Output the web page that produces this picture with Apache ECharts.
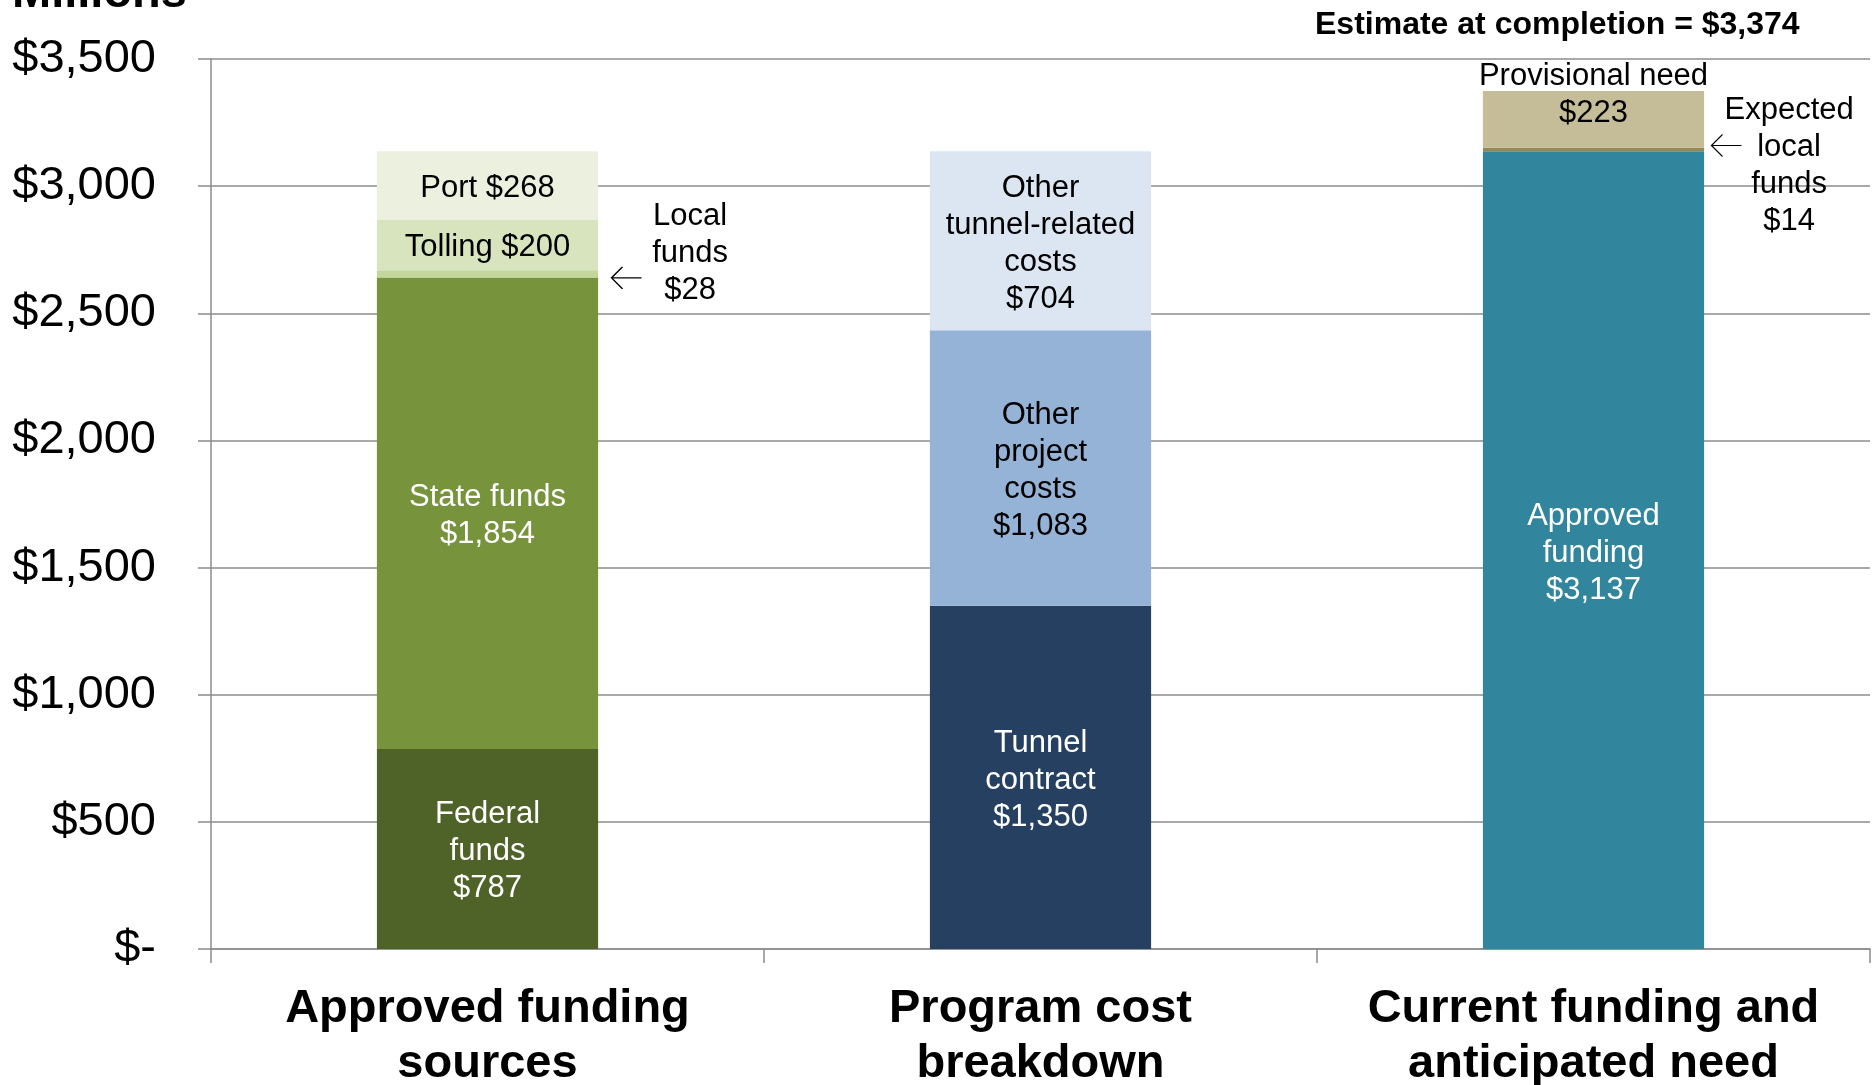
<!DOCTYPE html>
<html>
<head>
<meta charset="utf-8">
<script src="https://cdn.jsdelivr.net/npm/echarts@6/dist/echarts.min.js"></script>
<style>
  html, body { margin: 0; padding: 0; background: #fff; }
  #main { width: 1873px; height: 1085px; }
</style>
</head>
<body>
<div id="main"></div>
<script>
const categories = ['Approved funding\nsources', 'Program cost\nbreakdown', 'Current funding and\nanticipated need']

// bar 1: approved funding sources
const fundingNames = ['Federal funds', 'State funds', 'Local funds', 'Tolling', 'Port']
const fundingTexts = ['Federal\nfunds\n', 'State funds\n', 'Local\nfunds\n', 'Tolling ', 'Port ']
const fundingValues = [787, 1854, 28, 200, 268]

// bar 2: program cost breakdown
const costNames = ['Tunnel contract', 'Other project costs', 'Other tunnel-related costs']
const costTexts = ['Tunnel\ncontract\n', 'Other\nproject\ncosts\n', 'Other\ntunnel-related\ncosts\n']
const costValues = [1350, 1083, 704]

// bar 3: current funding and anticipated need
const needNames = ['Approved funding', 'Expected local funds', 'Provisional need']
const needTexts = ['Approved\nfunding\n', 'Expected\nlocal\nfunds\n', 'Provisional need\n']
const needValues = [3137, 14, 223]

const yMax = 3500
const yStep = 500

const FONT = '"Liberation Sans", Arial, sans-serif'
const GRID_COLOR = '#8c8c8c'

const money = v => '$' + v.toLocaleString('en-US')

// colours / label styling per segment (kept apart from the data)
const groupStyle = [
  { colors: ['#4f6228', '#77933c', '#c3d69b', '#d7e4bd', '#ebf1de'], white: [true, true, false, false, false] },
  { colors: ['#254061', '#95b3d7', '#dce6f2'], white: [true, false, false] },
  { colors: ['#31859c', '#948a54', '#c4bd97'], white: [true, false, false] }
]
// side notes with arrow: [group-index] -> label placement
const sideNotes = {
  '0-2': { distance: 92, offset: [0, -20], arrow: [139, 4] },
  '2-1': { distance: 85, offset: [0, 16], arrow: [133, -4] }
}
const insideOffsets = { '2-2': [0, -24] }
const ARROW = 'path://M30,11 L0,11 M11,0 L0,11 L11,22'

const series = []
function addGroup(catIdx, names, texts, values) {
  let base = 0
  names.forEach((name, i) => {
    const key = catIdx + '-' + i
    const st = groupStyle[catIdx]
    const s = {
      name: name,
      type: 'bar',
      stack: 'total',
      barWidth: '40%',
      data: categories.map((c, k) => (k === catIdx ? values[i] : '-')),
      itemStyle: { color: st.colors[i] },
      emphasis: { disabled: true },
      label: {
        show: true,
        position: 'inside',
        offset: insideOffsets[key] || [0, 3],
        formatter: texts[i] + money(values[i]),
        color: st.white[i] ? '#ffffff' : '#000000',
        fontFamily: FONT,
        fontSize: 31,
        lineHeight: 37
      }
    }
    const note = sideNotes[key]
    if (note) {
      s.label.position = 'right'
      s.label.distance = note.distance
      s.label.align = 'center'
      s.label.offset = note.offset
      s.markPoint = {
        silent: true,
        symbol: ARROW,
        symbolSize: [30, 22],
        symbolOffset: note.arrow,
        itemStyle: { color: 'none', borderColor: '#000', borderWidth: 1.3 },
        label: { show: false },
        data: [{ coord: [catIdx, base + values[i] / 2] }]
      }
    }
    base += values[i]
    series.push(s)
  })
}
addGroup(0, fundingNames, fundingTexts, fundingValues)
addGroup(1, costNames, costTexts, costValues)
addGroup(2, needNames, needTexts, needValues)

const estimate = needValues.reduce((a, b) => a + b, 0)

const chart = echarts.init(document.getElementById('main'))
chart.setOption({
  animation: false,
  backgroundColor: '#ffffff',
  grid: { left: 211, right: 3, top: 59, bottom: 136, outerBoundsMode: 'none', containLabel: false },
  xAxis: {
    type: 'category',
    data: categories,
    axisLine: { lineStyle: { color: GRID_COLOR, width: 1.5 } },
    axisTick: { show: true, length: 14, lineStyle: { color: GRID_COLOR, width: 1.5 } },
    axisLabel: {
      interval: 0,
      margin: 33,
      color: '#000',
      fontFamily: FONT,
      fontWeight: 'bold',
      fontSize: 47,
      lineHeight: 55
    }
  },
  yAxis: {
    type: 'value',
    min: 0,
    max: yMax,
    interval: yStep,
    axisLine: { show: true, lineStyle: { color: GRID_COLOR, width: 1.5 } },
    axisTick: { show: true, length: 13, lineStyle: { color: GRID_COLOR, width: 1.5 } },
    splitLine: { lineStyle: { color: GRID_COLOR, width: 1.5 } },
    axisLabel: {
      margin: 55,
      padding: [16, 0, 0, 0],
      color: '#000',
      fontFamily: FONT,
      fontSize: 47,
      formatter: v => (v === 0 ? '$-' : money(v))
    }
  },
  graphic: [
    {
      type: 'text',
      x: 12,
      y: -6,
      style: { text: 'Millions', fill: '#000', fontFamily: FONT, fontWeight: 'bold', fontSize: 47, verticalAlign: 'middle' }
    },
    {
      type: 'text',
      x: 1315,
      y: 25,
      style: { text: 'Estimate at completion = ' + money(estimate), fill: '#000', fontFamily: FONT, fontWeight: 'bold', fontSize: 32, verticalAlign: 'middle' }
    }
  ],
  series: series
})
</script>
</body>
</html>
